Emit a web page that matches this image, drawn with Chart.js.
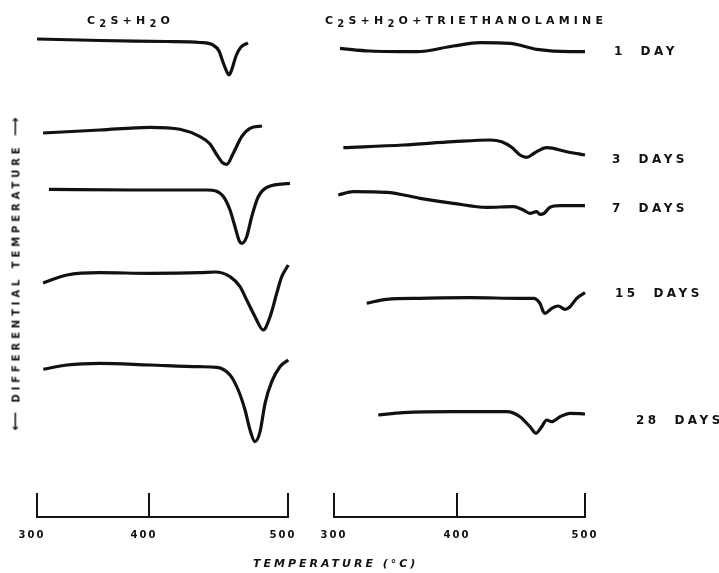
<!DOCTYPE html>
<html>
<head>
<meta charset="utf-8">
<script src="https://cdn.jsdelivr.net/npm/chart.js@4.4.0/dist/chart.umd.min.js"></script>
<style>
  body { margin: 0; background: #fff; }
  #wrap { position: relative; width: 719px; height: 573px; overflow: hidden; font-family: "DejaVu Sans", sans-serif; color: #111; }
  #leftChart { position: absolute; left: 0; top: 0; }
  #rightChart { position: absolute; left: 310px; top: 0; }
  .lbl { position: absolute; font-weight: bold; font-size: 11px; letter-spacing: 4.2px; white-space: nowrap; line-height: 1; transform: translateY(-50%); }
  .lbl sub { font-size: 10px; vertical-align: -3px; }
  .day { font-size: 12px; letter-spacing: 3.5px; word-spacing: 7px; }
  #ylab { position: absolute; left: 15px; top: 273px; transform: translate(-50%, -50%) rotate(-90deg); font-weight: bold; font-size: 10px; letter-spacing: 3.9px; white-space: nowrap; line-height: 1; }
  #ylab span { font-size: 13px; letter-spacing: 2px; }
</style>
</head>
<body>
<div id="wrap">
  <canvas id="leftChart" width="320" height="573"></canvas>
  <canvas id="rightChart" width="409" height="573"></canvas>

  <div class="lbl" style="left:87px; top:22px;">C<sub>2</sub>S+H<sub>2</sub>O</div>
  <div class="lbl" style="left:325px; top:22px;">C<sub>2</sub>S+H<sub>2</sub>O+TRIETHANOLAMINE</div>
  <div id="ylab"><span>⟵</span> DIFFERENTIAL  TEMPERATURE <span>⟶</span></div>
  <div class="lbl" style="left:253px; top:563px; font-style:italic; letter-spacing:3px;">TEMPERATURE (°C)</div>
  <div id="dayLabels"></div>
</div>

<script>
// temperature ticks of both panels
var tickTemps = [300, 400, 500];
var dayNames = ['1 DAY', '3 DAYS', '7 DAYS', '15 DAYS', '28 DAYS'];

// C2S + H2O  (temperature, deflection)
var left1T = [300, 356.3, 412.9, 436.7, 446.0, 450.4, 453.2, 456.1, 457.6, 459.7, 462.6, 466.2, 471.2];
var left1Y = [47.8, 47.65, 47.55, 47.45, 47.2, 46.6, 45.5, 44.5, 44.2, 44.8, 46.1, 47.0, 47.4];
var left3T = [305.4, 356.3, 400.7, 422.3, 436.7, 443.9, 448.9, 453.2, 456.1, 460.4, 466.7, 472.7, 481.3];
var left3Y = [38.4, 38.7, 38.97, 38.77, 38.03, 37.3, 36.2, 35.4, 35.27, 36.3, 38.03, 38.87, 39.1];
var left7T = [310.7, 385.7, 441.7, 448.2, 454.0, 458.3, 461.9, 465.0, 466.7, 470.3, 473.9, 478.6, 485.8, 501.4];
var left7Y = [32.77, 32.7, 32.7, 32.6, 31.95, 30.7, 29.03, 27.6, 27.37, 28.03, 30.03, 32.03, 33.03, 33.37];
var left15T = [305.4, 326.8, 356.3, 400.7, 436.7, 447.5, 458.3, 465.5, 470.3, 476.3, 482.2, 487.1, 491.9, 495.5, 500.2];
var left15Y = [23.4, 24.2, 24.43, 24.37, 24.43, 24.5, 24.03, 23.03, 21.7, 20.03, 18.7, 20.03, 22.37, 24.03, 25.2];
var left28T = [305.6, 326.5, 356.3, 400.7, 436.7, 448.9, 458.3, 464.2, 469.1, 472.7, 476.3, 479.9, 483.5, 488.3, 494.2, 500.2];
var left28Y = [14.77, 15.2, 15.37, 15.2, 15.03, 14.97, 14.2, 12.7, 10.7, 8.7, 7.53, 8.53, 11.37, 13.53, 15.03, 15.7];

// C2S + H2O + triethanolamine
var right1T = [304.9, 329.3, 367.2, 397.0, 418.0, 441.4, 462.3, 488.3, 500];
var right1Y = [46.87, 46.6, 46.53, 47.1, 47.43, 47.37, 46.77, 46.53, 46.53];
var right3T = [307.6, 356.3, 397.0, 425.8, 434.9, 442.7, 449.2, 454.5, 460.9, 470.1, 485.7, 500];
var right3Y = [36.93, 37.2, 37.53, 37.7, 37.53, 36.97, 36.2, 35.97, 36.43, 36.93, 36.53, 36.2];
var right7T = [303.5, 315.7, 342.8, 369.9, 397.0, 423.2, 444.0, 451.8, 457.0, 462.3, 464.8, 468.0, 472.7, 480.5, 500];
var right7Y = [32.2, 32.53, 32.47, 31.87, 31.37, 30.97, 31.03, 30.7, 30.37, 30.53, 30.27, 30.37, 30.97, 31.13, 31.13];
var right15T = [326.6, 342.8, 369.9, 410.2, 449.2, 459.6, 464.8, 467.4, 468.75, 474.0, 479.1, 484.4, 488.3, 493.5, 500];
var right15Y = [21.37, 21.77, 21.87, 21.93, 21.87, 21.87, 21.37, 20.53, 20.37, 20.87, 21.1, 20.77, 21.03, 21.87, 22.43];
var right28T = [336.0, 356.3, 397.0, 438.8, 449.2, 457.0, 461.7, 466.2, 470.1, 474.0, 480.5, 488.3, 500];
var right28Y = [10.2, 10.43, 10.53, 10.53, 10.03, 9.03, 8.37, 9.03, 9.7, 9.53, 10.03, 10.37, 10.3];

// the printed temperature scale is not evenly spaced, 400 sits off centre
function warpFor(mid) {
  return function(t) {
    return t <= 400 ? 300 + (t - 300) * (mid - 300) / 100 : mid + (t - 400) * (500 - mid) / 100;
  };
}

var tickMarks = {
  id: 'tickMarks',
  beforeDraw: function(chart) {
    chart.ctx.letterSpacing = '2px';
  },
  afterDraw: function(chart) {
    var x = chart.scales.x;
    var ctx = chart.ctx;
    var bottom = chart.chartArea.bottom;
    ctx.save();
    ctx.strokeStyle = '#111';
    ctx.lineWidth = 2;
    x.ticks.forEach(function(t) {
      var px = Math.round(x.getPixelForValue(t.value));
      ctx.beginPath();
      ctx.moveTo(px, bottom - 24);
      ctx.lineTo(px, bottom);
      ctx.stroke();
    });
    ctx.restore();
  }
};

function makeChart(id, temps, ys, mid, pad, labelShift) {
  var warp = warpFor(mid);
  var datasets = [];
  for (var i = 0; i < temps.length; i++) {
    var pts = [];
    for (var j = 0; j < temps[i].length; j++) {
      pts.push({x: warp(temps[i][j]), y: ys[i][j]});
    }
    datasets.push({
      label: dayNames[i],
      data: pts,
      borderColor: '#111',
      borderWidth: 3.2,
      pointRadius: 0,
      cubicInterpolationMode: 'monotone',
      fill: false,
      clip: false
    });
  }

  return new Chart(document.getElementById(id), {
    type: 'line',
    data: {datasets: datasets},
    options: {
      responsive: false,
      animation: false,
      layout: {padding: pad},
      plugins: {legend: {display: false}, tooltip: {enabled: false}},
      scales: {
        x: {
          type: 'linear',
          min: 300,
          max: 500,
          afterBuildTicks: function(scale) {
            scale.ticks = tickTemps.map(function(t) { return {value: warp(t)}; });
          },
          afterFit: function(scale) { scale.height = 56; },
          grid: {display: true, drawOnChartArea: false, drawTicks: false},
          border: {display: true, color: '#111', width: 2},
          ticks: {
            padding: 12,
            labelOffset: labelShift,
            color: '#111',
            font: {family: 'DejaVu Sans', size: 10, weight: 'bold'},
            callback: function(v, i) { return tickTemps[i]; }
          }
        },
        y: {display: false, min: 0, max: 50}
      }
    },
    plugins: [tickMarks]
  });
}

makeChart('leftChart',
  [left1T, left3T, left7T, left15T, left28T],
  [left1Y, left3Y, left7Y, left15Y, left28Y],
  389.2, {left: 37, right: 32, top: 17, bottom: 0}, -5);

makeChart('rightChart',
  [right1T, right3T, right7T, right15T, right28T],
  [right1Y, right3Y, right7Y, right15Y, right28Y],
  398.0, {left: 24, right: 134, top: 17, bottom: 0}, 0);

// curve names at the right edge
var dayLabelPos = [[614, 51], [612, 159], [612, 208], [615, 293], [636, 420]];
var box = document.getElementById('dayLabels');
dayNames.forEach(function(name, i) {
  var d = document.createElement('div');
  d.className = 'lbl day';
  d.style.left = dayLabelPos[i][0] + 'px';
  d.style.top = dayLabelPos[i][1] + 'px';
  d.textContent = name;
  box.appendChild(d);
});
</script>
</body>
</html>
